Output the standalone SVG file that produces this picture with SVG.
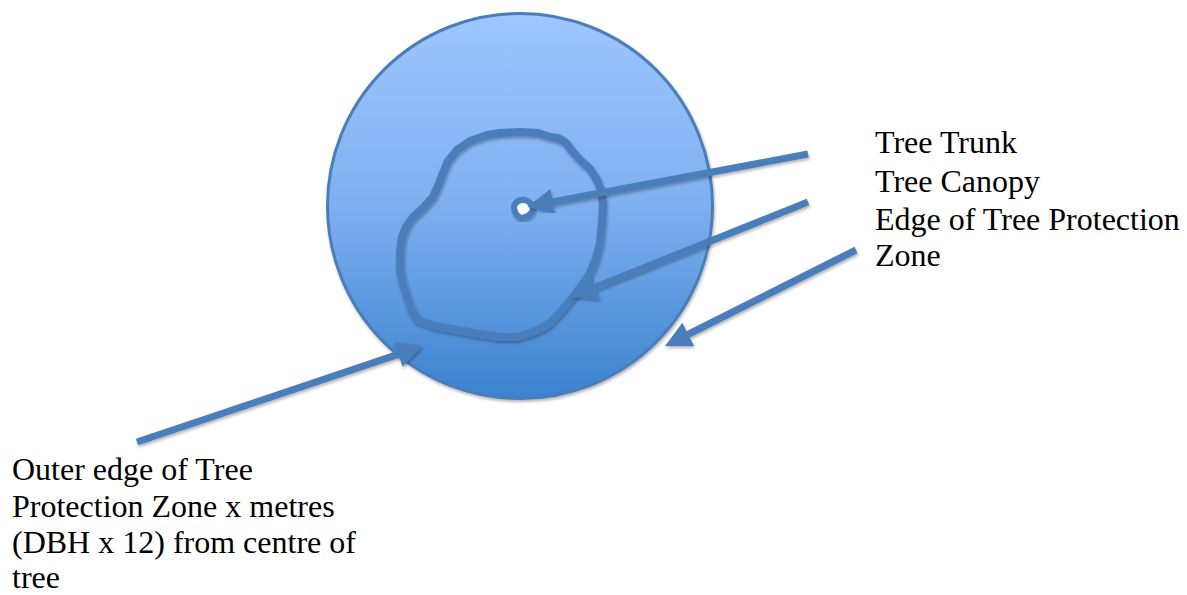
<svg xmlns="http://www.w3.org/2000/svg" width="1187" height="595" viewBox="0 0 1187 595">
  <style>
    .lbl { font-family: "Liberation Serif", "Times New Roman", serif; font-size: 32px; fill: #000; }
    .arrow { stroke: #4a7ebb; stroke-width: 7; fill: none; marker-end: url(#head); filter: url(#shadow); }
  </style>
  <defs>
    <linearGradient id="zoneGrad" x1="0" y1="0" x2="0" y2="1">
      <stop offset="0" stop-color="#9fc6ff"/>
      <stop offset="0.5" stop-color="#7eb0f0"/>
      <stop offset="1" stop-color="#3b82cf"/>
    </linearGradient>
    <filter id="shadow" x="-20%" y="-20%" width="140%" height="140%">
      <feDropShadow dx="1" dy="2" stdDeviation="1.5" flood-color="#000" flood-opacity="0.3"/>
    </filter>
    <marker id="head" markerUnits="userSpaceOnUse" viewBox="0 0 26 26" markerWidth="26" markerHeight="26" refX="6" refY="13" orient="auto">
      <path d="M0,0 L26,13 L0,26 z" fill="#4a7ebb"/>
    </marker>
  </defs>

  <g id="protection-zone">
    <circle cx="520" cy="206" r="192.5" fill="url(#zoneGrad)" stroke="#4a7ebb" stroke-width="3" filter="url(#shadow)"/>
  </g>

  <g id="tree-canopy">
    <path d="M520,132 L500,133 L487,135 L470,141 L457,150 L448,161 L443,173 L438,186 L433,197 L424,207 L413,217 L406,227 L402,237 L400,252 L400,270 L403,285 L407,297 L411,309 L417,320 L435,326 L457,330 L480,334 L500,337 L517,337 L530,333 L542,328 L550,323 L562,310 L573,297 L582,285 L590,273 L596,258 L600,243 L602,223 L603,203 L601,190 L597,180 L590,169 L580,160 L572,151 L566,143 L558,138 L550,137 L538,133 Z" fill="none" stroke="#4a7ebb" stroke-width="8" stroke-linejoin="round" filter="url(#shadow)"/>
  </g>

  <g id="tree-trunk">
    <path d="M514,206 Q517,199 525,200 Q533,203 533,210 Q530,217 521,218 Q514,215 514,206 Z" fill="#ffffff" stroke="#4a7ebb" stroke-width="6" filter="url(#shadow)"/>
  </g>

  <g id="connectors">
    <line class="arrow" x1="808" y1="154" x2="547" y2="203"/>
    <line class="arrow" x1="808" y1="202" x2="589.6" y2="289.6"/>
    <line class="arrow" x1="856" y1="250" x2="682.9" y2="337"/>
    <line class="arrow" x1="137" y1="442" x2="404" y2="352.4"/>
  </g>

  <g id="labels-right">
    <text class="lbl" x="875" y="153">Tree Trunk</text>
    <text class="lbl" x="875" y="192">Tree Canopy</text>
    <text class="lbl" x="875" y="230">Edge of Tree Protection</text>
    <text class="lbl" x="875" y="266">Zone</text>
  </g>

  <g id="label-left">
    <text class="lbl" x="12" y="480">Outer edge of Tree</text>
    <text class="lbl" x="12" y="517">Protection Zone x metres</text>
    <text class="lbl" x="12" y="553">(DBH x 12) from centre of</text>
    <text class="lbl" x="12" y="588">tree</text>
  </g>
</svg>
